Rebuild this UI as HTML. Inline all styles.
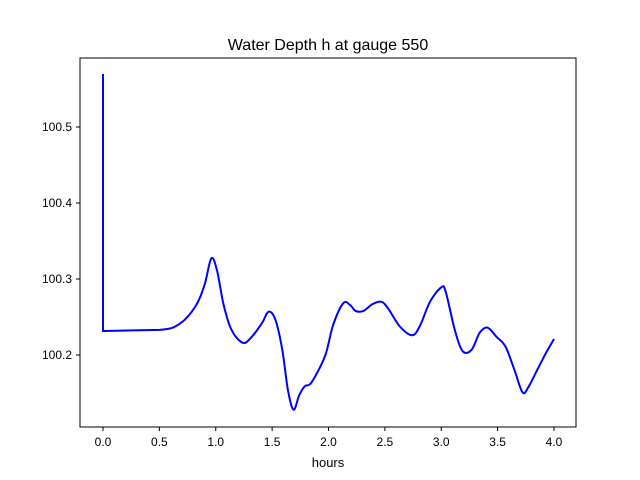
<!DOCTYPE html>
<html><head><meta charset="utf-8"><style>
body{margin:0;background:#fff;}
svg{display:block;font-family:"Liberation Sans","DejaVu Sans",sans-serif;}
</style></head><body>
<svg id="chart" width="640" height="480">
<rect x="0" y="0" width="640" height="480" fill="#fff"/>
<text x="328" y="50" font-size="16" text-anchor="middle">Water Depth h at gauge 550</text>
<g id="xt"></g><g id="yt"></g>
<path id="line" fill="none" stroke="#0000ff" stroke-width="2" stroke-linejoin="round"/>
<rect x="80" y="58" width="496" height="369" fill="none" stroke="#000" stroke-width="1"/>
<text x="328" y="467" font-size="13" text-anchor="middle">hours</text>
</svg>
<script>
const times=[0,0,0.5,0.68,0.82,0.9,0.96,1.01,1.07,1.14,1.24,1.32,1.41,1.47,1.53,1.59,1.64,1.69,1.74,1.79,1.85,1.97,2.04,2.13,2.19,2.24,2.31,2.39,2.47,2.53,2.63,2.74,2.81,2.90,3.00,3.04,3.12,3.19,3.27,3.34,3.41,3.49,3.57,3.65,3.72,3.77,3.85,3.93,4.0];
const depths=[100.5697,100.2316,100.233,100.241,100.264,100.292,100.327,100.312,100.266,100.233,100.216,100.224,100.242,100.257,100.246,100.207,100.154,100.128,100.147,100.159,100.164,100.199,100.239,100.268,100.266,100.258,100.258,100.267,100.270,100.261,100.238,100.226,100.238,100.270,100.289,100.283,100.233,100.205,100.207,100.229,100.236,100.224,100.211,100.180,100.151,100.157,100.180,100.203,100.221];
const xTicks=[0,0.5,1,1.5,2,2.5,3,3.5,4];
const yTicks=[100.2,100.3,100.4,100.5];
const xs=t=>103+t*112.75;
const ys=h=>355-(h-100.2)*760;
const NS="http://www.w3.org/2000/svg";
const xt=document.getElementById('xt'),yt=document.getElementById('yt');
xTicks.forEach(v=>{
 const l=document.createElementNS(NS,'line');
 
 
 l.setAttribute('x1',xs(v));l.setAttribute('x2',xs(v));l.setAttribute('y1',427);l.setAttribute('y2',431);l.setAttribute('stroke','#000');
 xt.appendChild(l);
 const t=document.createElementNS(NS,'text');
 
 
 t.setAttribute('x',xs(v));t.setAttribute('y',446);t.setAttribute('font-size','12');t.setAttribute('text-anchor','middle');
 t.textContent=v.toFixed(1);xt.appendChild(t);
});
yTicks.forEach(v=>{
 const l=document.createElementNS(NS,'line');
 
 
 l.setAttribute('x1',76);l.setAttribute('x2',80);l.setAttribute('y1',ys(v));l.setAttribute('y2',ys(v));l.setAttribute('stroke','#000');
 yt.appendChild(l);
 const t=document.createElementNS(NS,'text');
 
 
 t.setAttribute('x',72);t.setAttribute('y',ys(v)+4);t.setAttribute('font-size','12');t.setAttribute('text-anchor','end');
 t.textContent=v.toFixed(1);yt.appendChild(t);
});
const P=times.map((t,i)=>[xs(t),ys(depths[i])]);
let d=`M${P[0][0]},${P[0][1]} L${P[1][0]},${P[1][1]} L${P[2][0]},${P[2][1]}`;
for(let i=2;i<P.length-1;i++){
 const p0=P[i-1],p1=P[i],p2=P[i+1],p3=P[Math.min(i+2,P.length-1)];
 const c1=[p1[0]+(p2[0]-p0[0])/6,p1[1]+(p2[1]-p0[1])/6];
 const c2=[p2[0]-(p3[0]-p1[0])/6,p2[1]-(p3[1]-p1[1])/6];
 d+=` C${c1[0]},${c1[1]} ${c2[0]},${c2[1]} ${p2[0]},${p2[1]}`;
}
document.getElementById('line').setAttribute('d',d);
</script>
</body></html>
